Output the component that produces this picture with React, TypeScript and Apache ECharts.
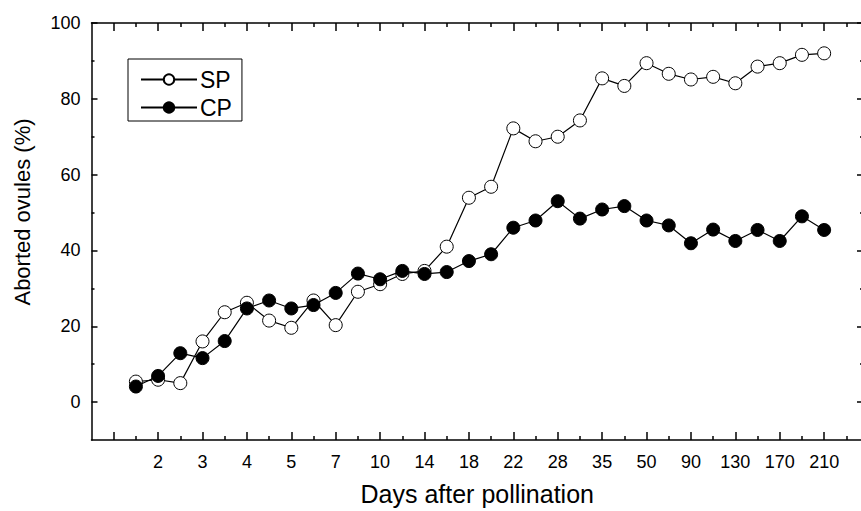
import React, { useEffect, useRef } from "react";
import * as echarts from "echarts";

// Day labels shown under the major ticks (slots 1,3,5,...,31)
const dayLabels = ["2", "3", "4", "5", "7", "10", "14", "18", "22", "28", "35", "50", "90", "130", "170", "210"];

// Aborted ovules (%) – self-pollination (SP, open circles), slot 0..31
const spValues = [
  5.4, 5.9, 5.0, 16.0, 23.7, 26.2, 21.5, 19.6, 26.8, 20.3,
  29.1, 31.1, 33.8, 34.6, 41.0, 53.9, 56.8, 72.2, 68.8, 70.0,
  74.3, 85.4, 83.4, 89.4, 86.6, 85.1, 85.8, 84.1, 88.5, 89.4,
  91.6, 92.0,
];

// Aborted ovules (%) – cross-pollination (CP, filled circles), slot 0..31
const cpValues = [
  4.1, 6.9, 12.9, 11.6, 16.1, 24.7, 26.8, 24.7, 25.6, 28.8,
  33.9, 32.4, 34.6, 33.8, 34.3, 37.2, 39.0, 46.0, 47.9, 53.0,
  48.4, 50.8, 51.7, 47.9, 46.6, 41.9, 45.5, 42.5, 45.4, 42.5,
  49.0, 45.4,
];

const yMajorTicks = [0, 20, 40, 60, 80, 100];
const yMinorTicks = [10, 30, 50, 70, 90];

const FONT = "'Liberation Sans', Arial, Helvetica, sans-serif";

export default function App() {
  const ref = useRef<HTMLDivElement>(null);

  useEffect(() => {
    if (!ref.current) return;
    const chart = echarts.init(ref.current, null, { renderer: "svg" });

    const labelSlots = dayLabels.map((_, k) => 2 * k + 1);
    const tallSlots: number[] = [];
    const shortSlots: number[] = [];
    for (let s = -1; s <= 31; s += 2) tallSlots.push(s);
    for (let s = 0; s <= 32; s += 2) shortSlots.push(s);

    const xMin = -2;
    const xMax = 32.75;
    const axisColor = "#000";
    const frameWidth = 1.5;

    const xBase = {
      type: "value" as const,
      min: xMin,
      max: xMax,
      splitLine: { show: false },
    };
    const yBase = {
      type: "value" as const,
      min: -10,
      max: 100,
      splitLine: { show: false },
    };

    const xAxes = [
      {
        ...xBase,
        position: "bottom",
        axisLine: { show: true, onZero: false, lineStyle: { color: axisColor, width: frameWidth } },
        axisTick: { show: true, inside: true, length: 8, customValues: tallSlots, lineStyle: { color: axisColor, width: frameWidth } },
        axisLabel: {
          show: true,
          customValues: labelSlots,
          formatter: (v: number) => dayLabels[Math.round((v - 1) / 2)] ?? "",
          color: "#000",
          fontSize: 18,
          fontFamily: FONT,
          margin: 13,
        },
        name: "Days after pollination",
        nameLocation: "middle",
        nameGap: 41,
        nameTextStyle: { color: "#000", fontSize: 25, fontFamily: FONT },
      },
      {
        ...xBase,
        position: "bottom",
        axisLine: { show: false, onZero: false },
        axisTick: { show: true, inside: true, length: 4, customValues: shortSlots, lineStyle: { color: axisColor, width: frameWidth } },
        axisLabel: { show: false },
      },
      {
        ...xBase,
        position: "top",
        axisLine: { show: true, onZero: false, lineStyle: { color: axisColor, width: frameWidth } },
        axisTick: { show: true, inside: true, length: 8, customValues: tallSlots, lineStyle: { color: axisColor, width: frameWidth } },
        axisLabel: { show: false },
      },
      {
        ...xBase,
        position: "top",
        axisLine: { show: false, onZero: false },
        axisTick: { show: true, inside: true, length: 4, customValues: shortSlots, lineStyle: { color: axisColor, width: frameWidth } },
        axisLabel: { show: false },
      },
    ];

    const yAxes = [
      {
        ...yBase,
        position: "left",
        axisLine: { show: true, onZero: false, lineStyle: { color: axisColor, width: frameWidth } },
        axisTick: { show: true, inside: true, length: 6, customValues: yMajorTicks, lineStyle: { color: axisColor, width: frameWidth } },
        axisLabel: {
          show: true,
          customValues: yMajorTicks,
          color: "#000",
          fontSize: 18,
          fontFamily: FONT,
          margin: 11,
        },
      },
      {
        ...yBase,
        position: "left",
        axisLine: { show: false, onZero: false },
        axisTick: { show: true, inside: true, length: 3, customValues: yMinorTicks, lineStyle: { color: axisColor, width: frameWidth } },
        axisLabel: { show: false },
      },
      {
        ...yBase,
        position: "right",
        axisLine: { show: true, onZero: false, lineStyle: { color: axisColor, width: frameWidth } },
        axisTick: { show: true, inside: true, length: 6, customValues: yMajorTicks, lineStyle: { color: axisColor, width: frameWidth } },
        axisLabel: { show: false },
      },
      {
        ...yBase,
        position: "right",
        axisLine: { show: false, onZero: false },
        axisTick: { show: true, inside: true, length: 3, customValues: yMinorTicks, lineStyle: { color: axisColor, width: frameWidth } },
        axisLabel: { show: false },
      },
    ];

    const option = {
      animation: false,
      backgroundColor: "#fff",
      grid: { left: 91.5, right: 3, top: 23, bottom: 69, containLabel: false },
      legend: {
        left: 128,
        top: 59,
        orient: "vertical",
        borderColor: "#000",
        borderWidth: 1,
        padding: [9, 10, 2, 12],
        itemGap: 5,
        itemWidth: 56,
        itemHeight: 13,
        textStyle: { color: "#000", fontSize: 23, fontFamily: FONT, padding: [0, 0, 0, -2] },
        data: ["SP", "CP"],
      },
      graphic: [
        {
          type: "text",
          x: 22,
          y: 212,
          rotation: Math.PI / 2,
          style: {
            text: "Aborted ovules (%)",
            fill: "#000",
            fontSize: 22,
            fontFamily: FONT,
            align: "center",
            verticalAlign: "middle",
          },
        },
      ],
      xAxis: xAxes,
      yAxis: yAxes,
      series: [
        {
          name: "SP",
          type: "line",
          xAxisIndex: 0,
          yAxisIndex: 0,
          data: spValues.map((v, i) => [i, v]),
          symbol: "circle",
          symbolSize: 13,
          showSymbol: true,
          lineStyle: { color: "#000", width: 1.2 },
          itemStyle: { color: "#fff", borderColor: "#000", borderWidth: 1 },
          z: 2,
        },
        {
          name: "CP",
          type: "line",
          xAxisIndex: 0,
          yAxisIndex: 0,
          data: cpValues.map((v, i) => [i, v]),
          symbol: "circle",
          symbolSize: 13,
          showSymbol: true,
          lineStyle: { color: "#000", width: 1.2 },
          itemStyle: { color: "#000", borderColor: "#000", borderWidth: 1 },
          z: 3,
        },
      ],
    };

    chart.setOption(option as any);
    return () => chart.dispose();
  }, []);

  return (
    <div
      style={{ position: "fixed", left: 0, top: 0, width: 861, height: 511, overflow: "hidden", background: "#fff" }}
    >
      <div ref={ref} style={{ width: 866, height: 511 }} />
    </div>
  );
}
